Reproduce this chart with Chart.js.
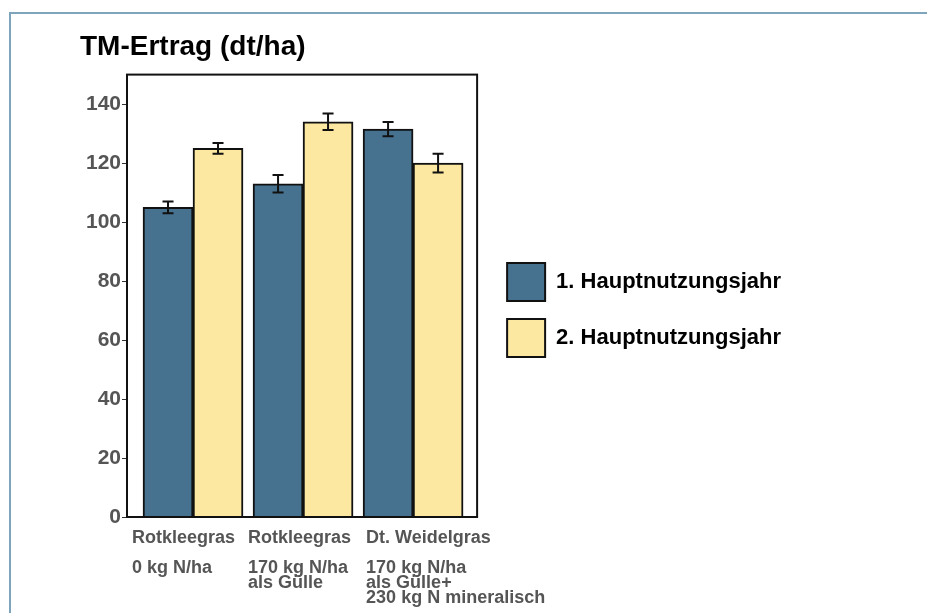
<!DOCTYPE html>
<html>
<head>
<meta charset="utf-8">
<title>TM-Ertrag</title>
<script src="https://cdn.jsdelivr.net/npm/chart.js@4"></script>
<style>
    body { margin: 0; background: #fff; }
    #frame { position: absolute; left: 9px; top: 12px; width: 960px; height: 640px; border: 2px solid #7fa5bd; }
    #chart { position: absolute; left: 0; top: 0; }
</style>
</head>
<body>
<div id="frame"></div>
<canvas id="chart" width="927" height="613"></canvas>
<script>
// categories (two text parts: species + fertilisation)
const categories = ['Rotkleegras', 'Rotkleegras', 'Dt. Weidelgras'];
const categoryNotes = [
    ['0 kg N/ha'],
    ['170 kg N/ha', 'als Gülle'],
    ['170 kg N/ha', 'als Gülle+', '230 kg N mineralisch']
];
const seriesNames = ['1. Hauptnutzungsjahr', '2. Hauptnutzungsjahr'];
const year1 = [105, 113, 131.5];
const year2 = [125, 134, 120];
const year1Err = [2, 3, 2.4];
const year2Err = [1.8, 2.8, 3.2];
const yMax = 150;
const yStep = 20;

const FONT = "'Liberation Sans', Arial, sans-serif";
const positions = categories.map((c, i) => i + 1);
// label anchors sit a little left of the group centre, text is left aligned
const labelAnchors = [0.445, 1.5, 2.573];

const toPoints = vals => vals.map((v, i) => ({ x: positions[i], y: v }));

const errorBars = {
    id: 'errorBars',
    afterDatasetsDraw(chart) {
        const { ctx } = chart;
        const y = chart.scales.y;
        const errs = [year1Err, year2Err];
        ctx.save();
        ctx.strokeStyle = '#111';
        ctx.lineWidth = 2;
        chart.data.datasets.forEach((ds, d) => {
            chart.getDatasetMeta(d).data.forEach((bar, i) => {
                const v = ds.data[i].y;
                const top = y.getPixelForValue(v + errs[d][i]);
                const bot = y.getPixelForValue(v - errs[d][i]);
                ctx.beginPath();
                ctx.moveTo(bar.x, top); ctx.lineTo(bar.x, bot);
                ctx.moveTo(bar.x - 5.5, top); ctx.lineTo(bar.x + 5.5, top);
                ctx.moveTo(bar.x - 5.5, bot); ctx.lineTo(bar.x + 5.5, bot);
                ctx.stroke();
            });
        });
        // frame round the plot
        const a = chart.chartArea;
        ctx.lineWidth = 2;
        ctx.strokeRect(a.left, a.top, a.right - a.left, a.bottom - a.top);
        ctx.restore();
    }
};

new Chart(document.getElementById('chart'), {
    type: 'bar',
    data: {
        datasets: [
            { label: seriesNames[0], data: toPoints(year1), backgroundColor: '#46728f', borderColor: '#111', borderWidth: 2, barThickness: 50 },
            { label: seriesNames[1], data: toPoints(year2), backgroundColor: '#fde8a1', borderColor: '#111', borderWidth: 2, barThickness: 50 }
        ]
    },
    options: {
        responsive: false,
        animation: false,
        layout: { padding: { left: 80, top: 7, right: 136, bottom: 0 } },
        plugins: {
            title: {
                display: true,
                text: 'TM-Ertrag (dt/ha)',
                align: 'start',
                color: '#000',
                font: { family: FONT, size: 28, weight: 'bold', lineHeight: 1.2 },
                padding: { top: 23, bottom: 11 }
            },
            legend: {
                position: 'right',
                align: 'center',
                maxWidth: 400,
                labels: {
                    boxWidth: 38,
                    boxHeight: 38,
                    padding: 18,
                    color: '#000',
                    font: { family: FONT, size: 22, weight: 'bold' }
                }
            },
            tooltip: { enabled: false }
        },
        scales: {
            x: {
                type: 'linear',
                min: 0.4,
                max: 3.582,
                offset: false,
                grid: { display: false },
                border: { display: true, color: '#000', width: 2 },
                afterBuildTicks: s => { s.ticks = labelAnchors.map(v => ({ value: v })); },
                afterFit: s => { s.height = 96; },
                ticks: {
                    autoSkip: false,
                    maxRotation: 0,
                    align: 'start',
                    padding: 6,
                    color: '#555',
                    font: { family: FONT, size: 18, weight: 'bold', lineHeight: '15px' },
                    callback: (v, i) => [categories[i], ''].concat(categoryNotes[i])
                }
            },
            y: {
                min: 0,
                max: yMax,
                grid: { drawOnChartArea: false, drawTicks: true, tickLength: 5, color: '#333' },
                border: { display: true, color: '#000', width: 2 },
                afterFit: s => { s.width = 47; },
                ticks: {
                    stepSize: yStep,
                    includeBounds: false,
                    padding: 1,
                    color: '#555',
                    font: { family: FONT, size: 21, weight: 'bold' }
                }
            },
            gap: {
                type: 'linear',
                position: 'right',
                grid: { display: false },
                border: { display: false },
                ticks: { display: false },
                afterFit: s => { s.width = 12; }
            }
        }
    },
    plugins: [errorBars]
});
</script>
</body>
</html>
